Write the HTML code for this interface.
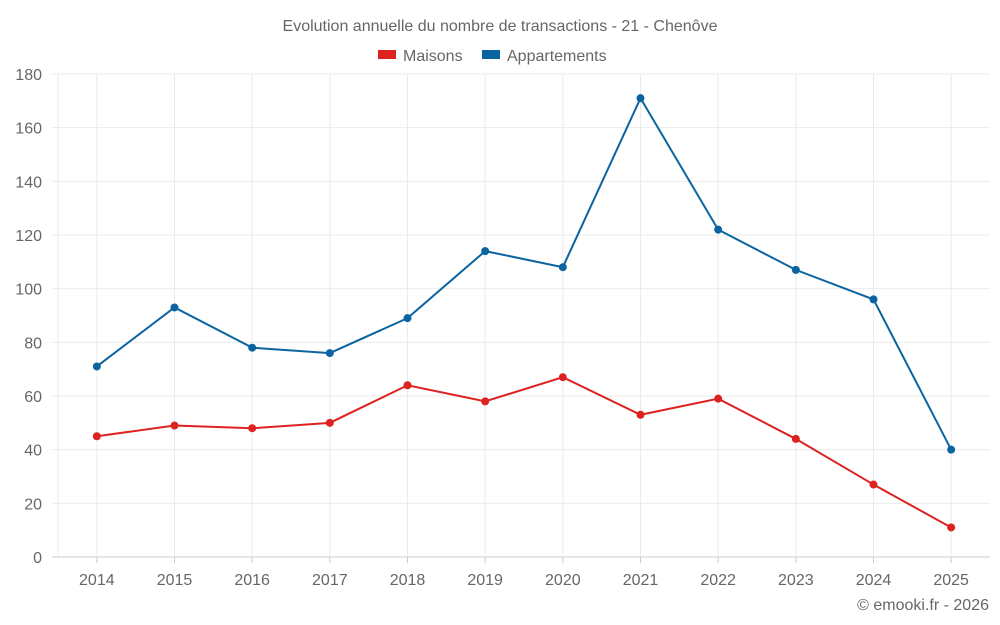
<!DOCTYPE html>
<html><head><meta charset="utf-8"><style>
html,body{margin:0;padding:0;background:#fff;width:1000px;height:625px;overflow:hidden;font-family:"Liberation Sans",sans-serif;}
svg text{font-family:"Liberation Sans",sans-serif;fill:#666;}
</style></head><body>
<svg id="chart" width="1000" height="625" viewBox="0 0 1000 625" xmlns="http://www.w3.org/2000/svg">
<text x="500" y="31" text-anchor="middle" font-size="16">Evolution annuelle du nombre de transactions - 21 - Chenôve</text>
<g>
<g><rect x="378" y="50" width="18" height="9" fill="#dd2222"/><text x="403" y="61" font-size="16">Maisons</text></g>
<g><rect x="482" y="50" width="18" height="9" fill="#0a64a0"/><text x="507" y="61" font-size="16">Appartements</text></g>
</g>
<g id="grid"></g>
<g id="axes"></g>
<g id="series"></g>
<text x="989" y="610" text-anchor="end" font-size="16">© emooki.fr - 2026</text>
</svg>
<script>
const categories=["2014","2015","2016","2017","2018","2019","2020","2021","2022","2023","2024","2025"];
const maisons=[45,49,48,50,64,58,67,53,59,44,27,11];
const appartements=[71,93,78,76,89,114,108,171,122,107,96,40];
const yTicks=[0,20,40,60,80,100,120,140,160,180];
const L=58,R=990,T=74,B=557,YMAX=180;
const NS="http://www.w3.org/2000/svg";
const bw=(R-L)/categories.length;
function x(i){return L+bw*(i+0.5);}
function y(v){return B-(v/YMAX)*(B-T);}
function mk(tag,attrs,parent){const e=document.createElementNS(NS,tag);for(const k in attrs)e.setAttribute(k,attrs[k]);parent.appendChild(e);return e;}
const grid=document.getElementById('grid'),axes=document.getElementById('axes'),series=document.getElementById('series');
yTicks.forEach(t=>{
  const g=mk('line',{x1:L-6,x2:R,y1:y(t),y2:y(t),stroke:t===0?'#ccc':'#ebebeb','stroke-width':1},grid);
  
  
  const tx=mk('text',{x:L-16,y:y(t)+6,'text-anchor':'end','font-size':16},axes);
  tx.textContent=t;
  
  
});
const lg=mk('line',{x1:L,x2:L,y1:T,y2:B,stroke:'#ebebeb','stroke-width':1},grid);


categories.forEach((c,i)=>{
  const g=mk('line',{x1:x(i),x2:x(i),y1:T,y2:B,stroke:'#ebebeb','stroke-width':1},grid);
  
  
  const tk=mk('line',{x1:x(i),x2:x(i),y1:B,y2:B+6,stroke:'#ccc'},axes);
  
  
  const tx=mk('text',{x:x(i),y:B+28,'text-anchor':'middle','font-size':16},axes);
  tx.textContent=c;
  
  
});
function draw(data,color,name){
  const p=mk('polyline',{points:data.map((v,i)=>x(i)+','+y(v)).join(' '),fill:'none',stroke:color,'stroke-width':2},series);
  
  
  data.forEach((v,i)=>{
    const c=mk('circle',{cx:x(i),cy:y(v),r:4,fill:color},series);
    
    
  });
}
draw(appartements,'#0a64a0','appartements');
draw(maisons,'#dd2222','maisons');
</script>
</body></html>
